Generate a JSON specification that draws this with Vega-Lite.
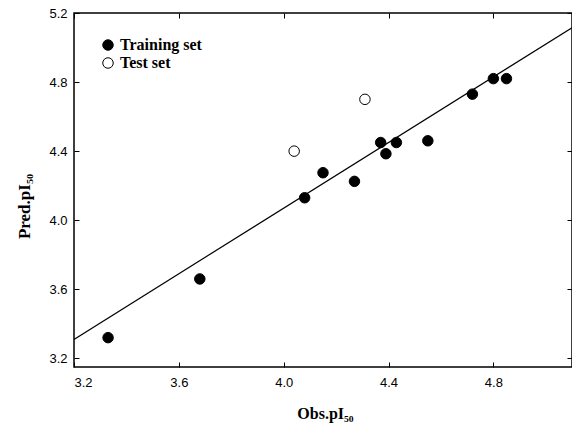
{
  "$schema": "https://vega.github.io/schema/vega-lite/v6.json",
  "width": 498,
  "height": 354,
  "autosize": {"type": "none"},
  "padding": {"left": 74, "top": 13, "right": 0, "bottom": 60},
  "background": "white",
  "config": {
    "view": {"stroke": "black", "strokeWidth": 1.5},
    "axis": {
      "domain": false,
      "grid": false,
      "tickColor": "black",
      "tickWidth": 1,
      "tickSize": 5,
      "offset": -5,
      "labelFont": "Liberation Sans",
      "labelFontSize": 13,
      "labelColor": "black",
      "titleFont": "Liberation Serif",
      "titleFontWeight": "bold",
      "titleColor": "black"
    }
  },
  "layer": [
    {
      "data": {"values": [
        {"obs": 3.2, "pred": 3.31},
        {"obs": 5.1, "pred": 5.115}
      ]},
      "mark": {"type": "line", "color": "black", "strokeWidth": 1.2, "clip": true},
      "encoding": {
        "x": {
          "field": "obs", "type": "quantitative",
          "scale": {"domain": [3.2, 5.1], "nice": false, "zero": false},
          "axis": {
            "orient": "bottom",
            "values": [3.2, 3.6, 4.0, 4.4, 4.8],
            "format": ".1f",
            "labelPadding": 9,
            "title": "Obs.pI₅₀",
            "titleFontSize": 16,
            "titleBaseline": "alphabetic",
            "titleY": 56,
            "titleX": 251
          }
        },
        "y": {
          "field": "pred", "type": "quantitative",
          "scale": {"domain": [3.15, 5.2], "nice": false, "zero": false},
          "axis": {
            "orient": "left",
            "values": [3.2, 3.6, 4.0, 4.4, 4.8, 5.2],
            "format": ".1f",
            "labelPadding": 7,
            "title": "Pred.pI₅₀",
            "titleFontSize": 17,
            "titleBaseline": "alphabetic",
            "titleX": -50,
            "titleY": 193
          }
        }
      }
    },
    {
      "data": {"values": [
        {"obs": 3.33, "pred": 3.32, "set": "Training set"},
        {"obs": 3.68, "pred": 3.66, "set": "Training set"},
        {"obs": 4.08, "pred": 4.13, "set": "Training set"},
        {"obs": 4.15, "pred": 4.275, "set": "Training set"},
        {"obs": 4.27, "pred": 4.225, "set": "Training set"},
        {"obs": 4.37, "pred": 4.45, "set": "Training set"},
        {"obs": 4.39, "pred": 4.385, "set": "Training set"},
        {"obs": 4.43, "pred": 4.45, "set": "Training set"},
        {"obs": 4.55, "pred": 4.46, "set": "Training set"},
        {"obs": 4.72, "pred": 4.73, "set": "Training set"},
        {"obs": 4.80, "pred": 4.82, "set": "Training set"},
        {"obs": 4.85, "pred": 4.82, "set": "Training set"},
        {"obs": 4.04, "pred": 4.40, "set": "Test set"},
        {"obs": 4.31, "pred": 4.70, "set": "Test set"}
      ]},
      "mark": {"type": "point", "filled": true, "size": 110, "stroke": "black", "strokeWidth": 1, "opacity": 1},
      "encoding": {
        "x": {
          "field": "obs", "type": "quantitative",
          "axis": {"orient": "top", "values": [3.2, 3.6, 4.0, 4.4, 4.8], "labels": false, "title": null}
        },
        "y": {
          "field": "pred", "type": "quantitative",
          "axis": {"orient": "right", "values": [3.2, 3.6, 4.0, 4.4, 4.8, 5.2], "labels": false, "title": null}
        },
        "fill": {
          "field": "set", "type": "nominal",
          "scale": {"domain": ["Training set", "Test set"], "range": ["black", "white"]},
          "legend": {
            "title": null,
            "orient": "none",
            "legendX": 26,
            "legendY": 24,
            "symbolType": "circle",
            "symbolSize": 110,
            "symbolStrokeColor": "black",
            "symbolStrokeWidth": 1,
            "symbolOpacity": 1,
            "labelFont": "Liberation Serif",
            "labelFontWeight": "bold",
            "labelFontSize": 16,
            "labelColor": "black",
            "labelOffset": 4,
            "rowPadding": 2,
            "padding": 0
          }
        }
      }
    }
  ],
  "resolve": {"axis": {"x": "independent", "y": "independent"}}
}
